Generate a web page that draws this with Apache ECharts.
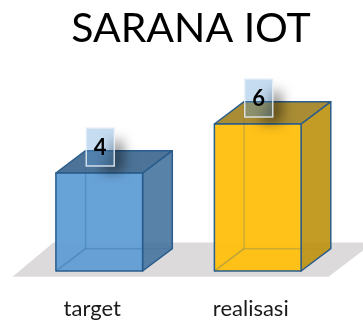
<!DOCTYPE html>
<html><head><meta charset="utf-8">
<style>html,body{margin:0;padding:0;background:#fff}#c{width:363px;height:320px}</style>
<script src="https://cdn.jsdelivr.net/npm/echarts@6/dist/echarts.min.js"></script>
</head><body><div id="c"></div>
<script>
var titleText = 'SARANA IOT';
var categories = ['target', 'realisasi'];
var values = [4, 6];
var frontColors = ['rgba(91,155,213,0.92)', 'rgba(255,192,18,0.97)'];
var sideColors = ['rgba(66,113,157,0.88)', 'rgba(190,148,18,0.92)'];
var topColors = ['rgba(58,101,141,0.9)', 'rgba(160,128,30,0.9)'];
var edgeColor = '#2a5d8c';

var chart = echarts.init(document.getElementById('c'), null, {renderer: 'canvas'});
var DX = 29.7, DY = 22.3, SHIFT = 7, OFF = 1000;

function poly(points, fill, stroke, lw) {
  return {type: 'polygon', shape: {points: points}, style: {fill: fill, stroke: stroke, lineWidth: lw, lineJoin: 'round'}};
}
function renderFloor(params, api) {
  var r = params.coordSys, b = r.y + r.height;
  var x0 = r.x - 0.5, x1 = r.x + r.width - 1.5;
  return poly([[x0, b + 5.7], [x0 + 41, b - 28.5], [x1 + 45, b - 28.5], [x1, b + 5.7]], '#dcdadb', null, 0);
}
function renderBox(params, api) {
  var i = api.value(0), v = api.value(1);
  var c = api.coord([i, v]), base = api.coord([i, 0]);
  var w = api.size([1, 0])[0] * 0.547;
  var x0 = c[0] + SHIFT - w / 2, x1 = x0 + w, yt = c[1], yb = base[1];
  var backEdge = 'rgba(42,93,140,0.35)';
  return {type: 'group', children: [
    {type: 'polyline', shape: {points: [[x0 + DX, yt - DY], [x0 + DX, yb - DY], [x1 + DX, yb - DY]]}, style: {stroke: backEdge, lineWidth: 1.5, fill: null}},
    {type: 'line', shape: {x1: x0, y1: yb, x2: x0 + DX, y2: yb - DY}, style: {stroke: backEdge, lineWidth: 1.5}},
    poly([[x1, yt], [x1 + DX, yt - DY], [x1 + DX, yb - DY], [x1, yb]], sideColors[i], edgeColor, 1.5),
    poly([[x0, yt], [x0 + DX, yt - DY], [x1 + DX, yt - DY], [x1, yt]], topColors[i], edgeColor, 1.5),
    poly([[x0, yt], [x1, yt], [x1, yb], [x0, yb]], frontColors[i], edgeColor, 1.5),
    {type: 'polyline', shape: {points: [[x0 + DX, yt], [x0 + DX, yb - DY], [x1, yb - DY]]}, style: {stroke: 'rgba(42,93,140,0.22)', lineWidth: 1.5, fill: null}},
    {type: 'line', shape: {x1: x0, y1: yb, x2: x0 + DX, y2: yb - DY}, style: {stroke: 'rgba(42,93,140,0.3)', lineWidth: 1.5}}
  ]};
}
function renderTag(params, api) {
  var i = api.value(0), v = api.value(1);
  var c = api.coord([i, v]);
  var cx = c[0] + SHIFT + 1, cy = c[1] - 26;
  return {type: 'group', children: [
    {type: 'polygon', shape: {points: [[cx + 11 - OFF, cy - 6], [cx + 22 - OFF, cy - 6], [cx + 22 - OFF, cy + 24], [cx + 2 - OFF, cy + 24], [cx + 2 - OFF, cy + 15], [cx + 11 - OFF, cy + 15]]},
      style: {fill: '#000', shadowBlur: 13, shadowOffsetX: OFF, shadowOffsetY: 0, shadowColor: 'rgba(0,0,0,0.55)'}, silent: true},
    {type: 'rect', shape: {x: cx - 14, y: cy - 19, width: 28, height: 38},
      style: {fill: 'rgba(91,155,213,0.35)', stroke: 'rgba(232,240,248,0.85)', lineWidth: 1.5}},
    {type: 'text', style: {text: String(v), x: cx, y: cy + 0.5, align: 'center', verticalAlign: 'middle',
      fontFamily: 'Lato', fontWeight: 'bold', fontSize: 22, fill: '#000'}}
  ]};
}
chart.setOption({
  animation: false,
  backgroundColor: '#fff',
  title: {text: titleText, left: 186, top: 3, textAlign: 'center',
    textStyle: {fontFamily: 'Lato', fontWeight: 'normal', fontSize: 41, color: '#000'}},
  grid: {left: 13, top: 75, width: 317, height: 196},
  xAxis: {type: 'category', data: categories, axisLine: {show: false}, axisTick: {show: false},
    axisLabel: {margin: 27, fontFamily: 'Lato', fontSize: 22, color: '#1a1a1a'}},
  yAxis: {type: 'value', min: 0, max: 8, interval: 2, show: false, splitLine: {show: false}},
  series: [
    {type: 'custom', coordinateSystem: 'cartesian2d', renderItem: renderFloor, data: [[0, 0]], z: 1, silent: true, clip: false},
    {type: 'custom', coordinateSystem: 'cartesian2d', renderItem: renderBox, encode: {x: 0, y: 1},
      data: values.map(function (v, i) { return [i, v]; }), z: 2, clip: false},
    {type: 'custom', coordinateSystem: 'cartesian2d', renderItem: renderTag, encode: {x: 0, y: 1},
      data: values.map(function (v, i) { return [i, v]; }), z: 3, clip: false}
  ]
});
</script></body></html>
